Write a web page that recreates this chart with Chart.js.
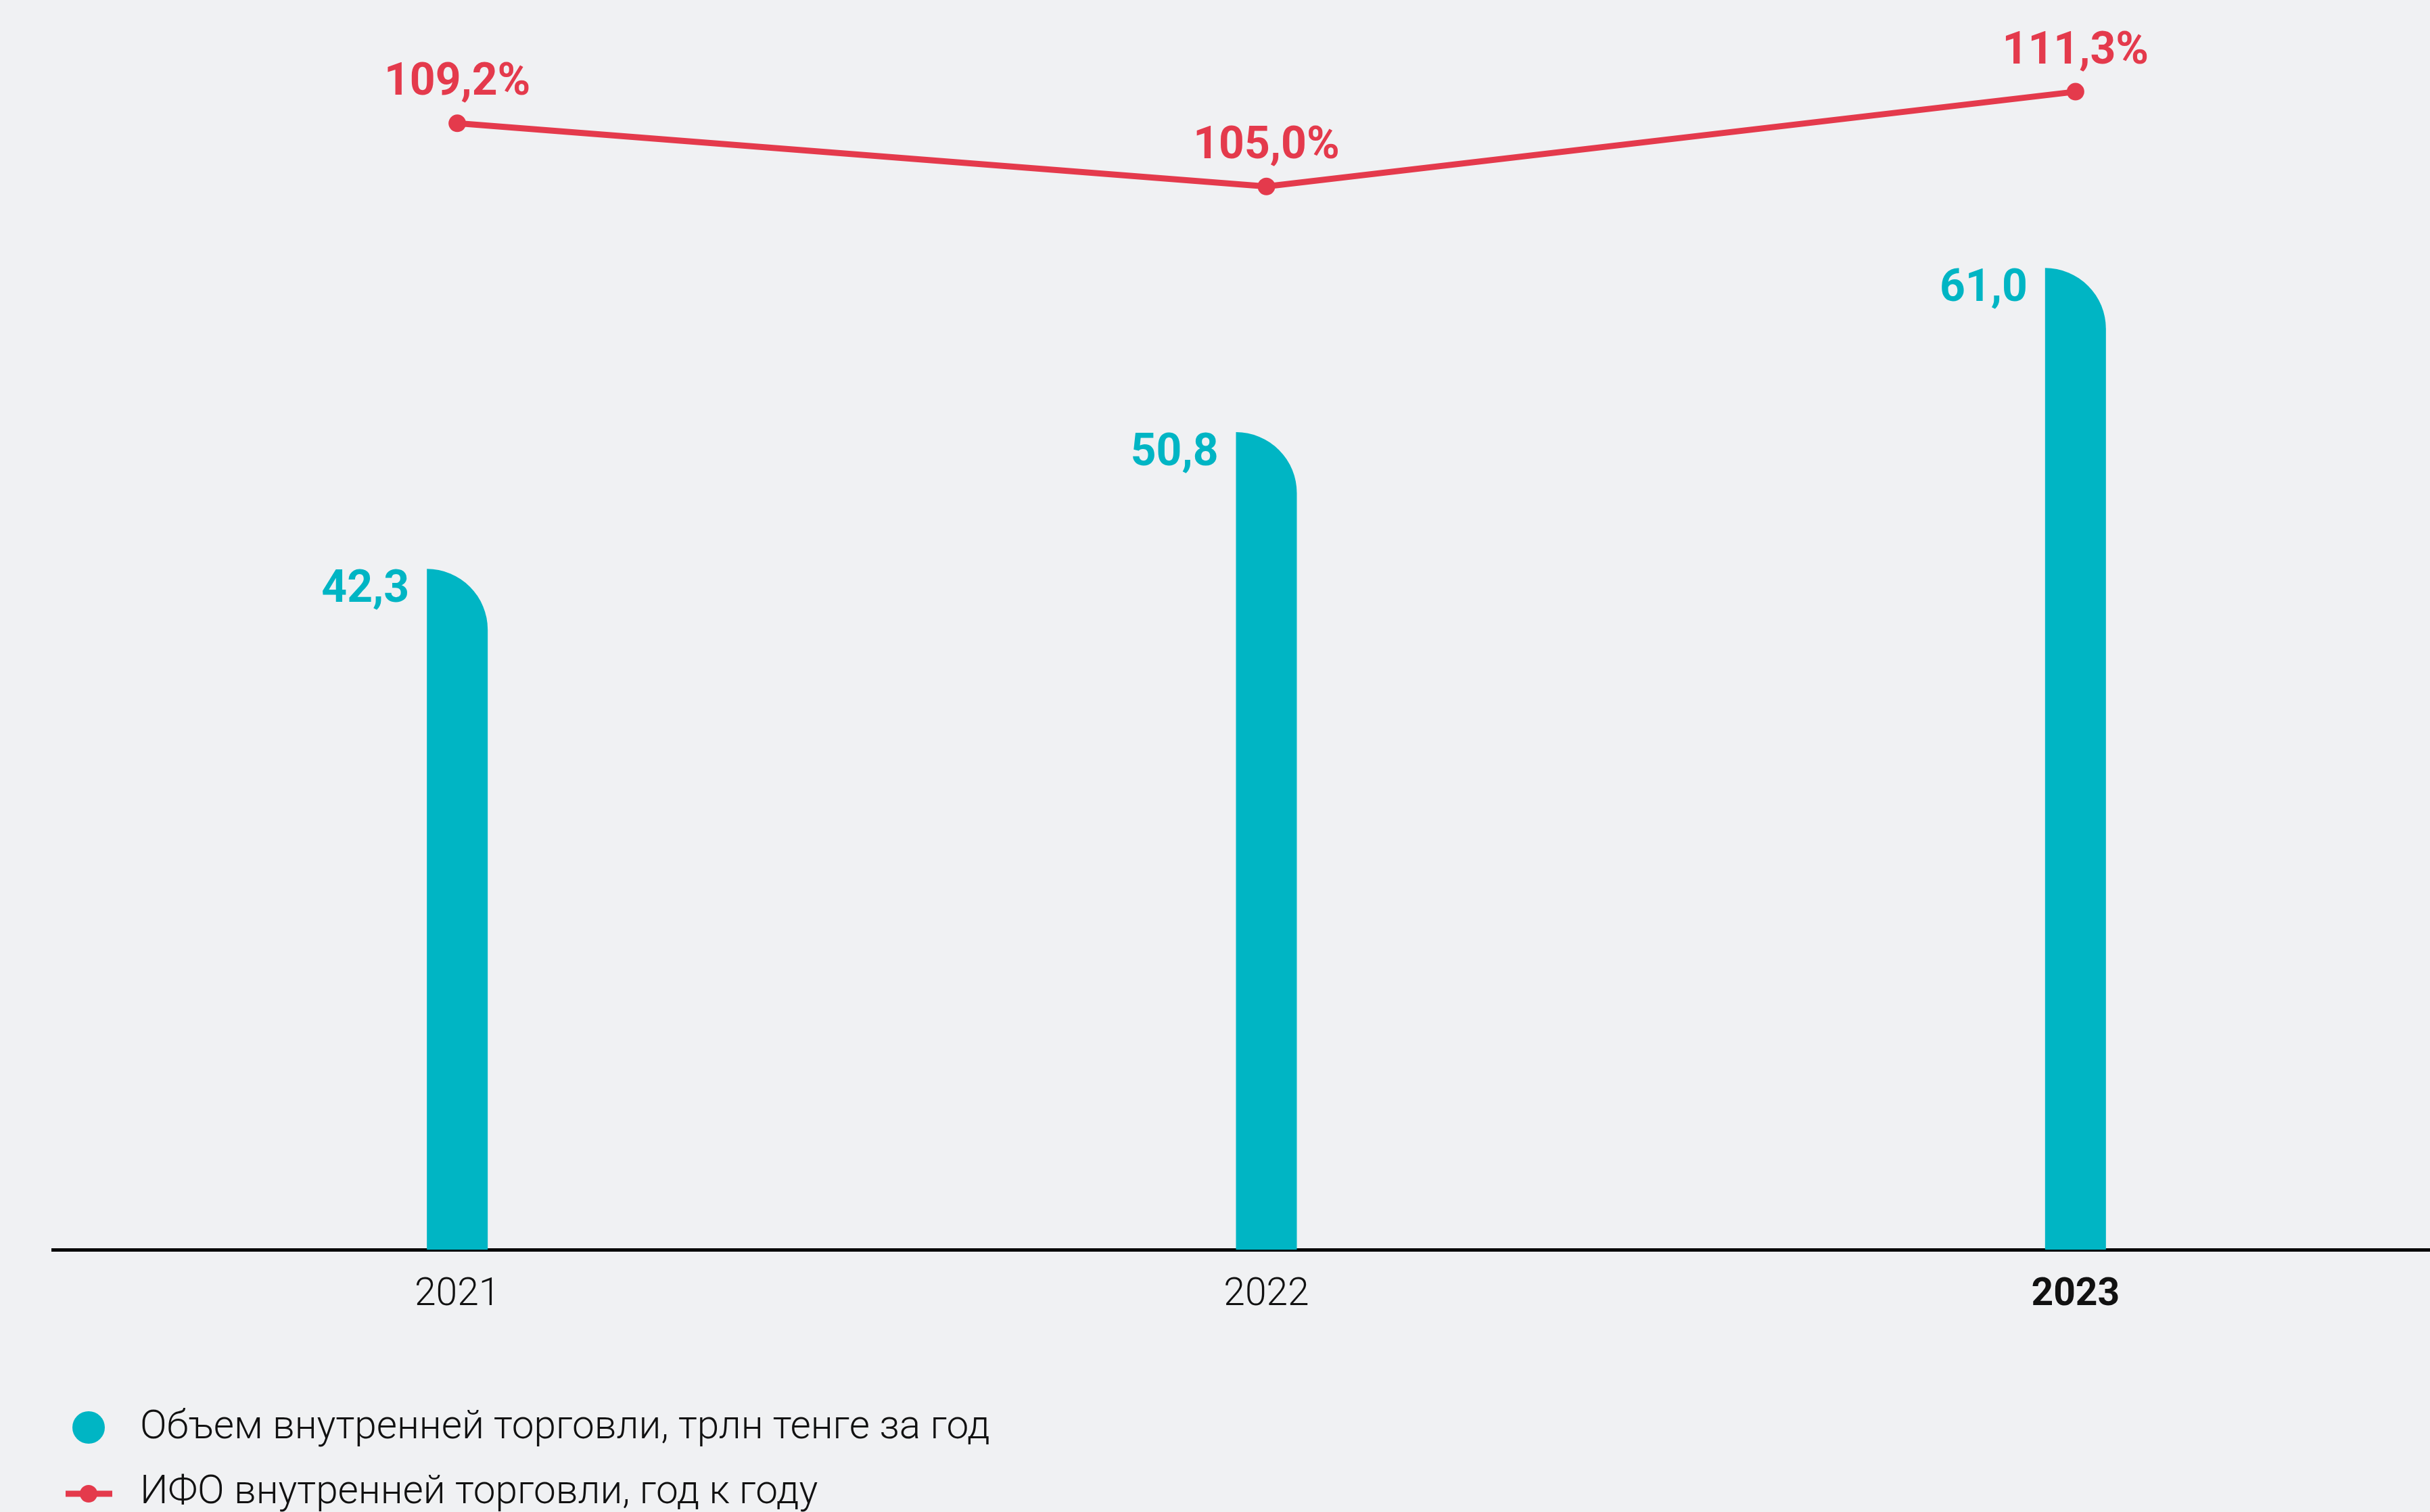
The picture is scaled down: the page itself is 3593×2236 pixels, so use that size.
<!DOCTYPE html>
<html lang="ru">
<head>
<meta charset="UTF-8">
<title>Внутренняя торговля</title>
<script src="https://cdn.jsdelivr.net/npm/chart.js"></script>
<style>
    html, body {
        margin: 0;
        padding: 0;
        overflow: hidden;
        background: #F0F1F3;
    }
    .chart-box {
        position: absolute;
        left: 0;
        top: 0;
        width: 3680px;
        height: 2236px;
    }
</style>
</head>
<body>
<div class="chart-box">
    <canvas id="tradeChart"></canvas>
</div>

<script>
    const years = ['2021', '2022', '2023'];
    const tradeVolume = [42.3, 50.8, 61.0];     // трлн тенге
    const tradeIndex = [109.2, 105.0, 111.3];   // %, год к году

    const TEAL = '#00B5C4';
    const RED = '#E43A4C';
    const FONT = 'Roboto';

    const fmt = v => v.toFixed(1).replace('.', ',');

    // bars with a single rounded (quarter circle) top-right corner
    const roundedBars = {
        id: 'roundedBars',
        beforeDatasetDraw(chart, args) {
            if (args.meta.type !== 'bar') return;
            const ctx = chart.ctx;
            ctx.save();
            ctx.fillStyle = chart.data.datasets[args.index].backgroundColor;
            args.meta.data.forEach(bar => {
                const { x, y, base, width } = bar.getProps(['x', 'y', 'base', 'width']);
                const left = x - width / 2;
                const r = Math.min(width, base - y);
                ctx.beginPath();
                ctx.moveTo(left, base);
                ctx.lineTo(left, y);
                ctx.arc(left, y + r, r, -Math.PI / 2, 0);
                ctx.lineTo(left + width, base);
                ctx.closePath();
                ctx.fill();
            });
            ctx.restore();
            return false;
        }
    };

    // value labels: left of the bars, above the line points
    const valueLabels = {
        id: 'valueLabels',
        afterDatasetsDraw(chart) {
            const ctx = chart.ctx;
            ctx.save();
            ctx.font = `bold 66px ${FONT}`;
            ctx.textBaseline = 'alphabetic';
            chart.data.datasets.forEach((ds, i) => {
                const meta = chart.getDatasetMeta(i);
                meta.data.forEach((el, j) => {
                    if (meta.type === 'bar') {
                        ctx.fillStyle = TEAL;
                        ctx.textAlign = 'right';
                        ctx.fillText(fmt(ds.data[j]), el.x - el.width / 2 - 26, el.y + 49);
                    } else {
                        ctx.fillStyle = RED;
                        ctx.textAlign = 'center';
                        ctx.fillText(fmt(ds.data[j]) + '%', el.x, el.y - 42);
                    }
                });
            });
            ctx.restore();
        }
    };

    // two-row legend under the axis: bar series first, then the line
    const bottomLegend = {
        id: 'bottomLegend',
        afterDraw(chart) {
            const ctx = chart.ctx;
            const sets = chart.data.datasets;
            const barSet = sets.find(d => d.type === 'bar');
            const lineSet = sets.find(d => d.type === 'line');
            ctx.save();
            ctx.font = `300 58.5px ${FONT}`;
            ctx.textAlign = 'left';
            ctx.textBaseline = 'middle';

            ctx.fillStyle = TEAL;
            ctx.beginPath();
            ctx.arc(131, 2111, 24, 0, Math.PI * 2);
            ctx.fill();
            ctx.fillStyle = '#111';
            ctx.fillText(barSet.label, 207, 2112);

            ctx.strokeStyle = RED;
            ctx.lineWidth = 9;
            ctx.beginPath();
            ctx.moveTo(97, 2209);
            ctx.lineTo(166, 2209);
            ctx.stroke();
            ctx.fillStyle = RED;
            ctx.beginPath();
            ctx.arc(131, 2209, 13, 0, Math.PI * 2);
            ctx.fill();
            ctx.fillStyle = '#111';
            ctx.fillText(lineSet.label, 207, 2208);
            ctx.restore();
        }
    };

    new Chart(document.getElementById('tradeChart'), {
        data: {
            labels: years,
            datasets: [
                {
                    type: 'line',
                    label: 'ИФО внутренней торговли, год к году',
                    data: tradeIndex,
                    yAxisID: 'y1',
                    borderColor: RED,
                    borderWidth: 9,
                    pointRadius: 13,
                    pointBackgroundColor: RED,
                    pointBorderWidth: 0,
                    tension: 0,
                    order: 0
                },
                {
                    type: 'bar',
                    label: 'Объем внутренней торговли, трлн тенге за год',
                    data: tradeVolume,
                    yAxisID: 'y',
                    backgroundColor: TEAL,
                    barThickness: 90,
                    order: 1
                }
            ]
        },
        options: {
            responsive: true,
            maintainAspectRatio: false,
            animation: false,
            layout: {
                padding: { left: 78, right: 0, top: 100, bottom: 218 }
            },
            plugins: {
                legend: { display: false },
                tooltip: { enabled: false }
            },
            scales: {
                x: {
                    type: 'category',
                    offset: true,
                    z: 1,
                    grid: { display: false, drawTicks: false },
                    border: { display: true, color: '#000', width: 5 },
                    ticks: {
                        color: '#111',
                        padding: 34,
                        font: ctx => ({
                            family: FONT,
                            size: 57,
                            weight: ctx.index === 2 ? 'bold' : 300
                        })
                    },
                    afterFit(scale) { scale.height = 170; }
                },
                y: {
                    display: false,
                    min: 0,
                    max: 73.45
                },
                y1: {
                    display: false,
                    min: 34.34,
                    max: 112.9
                }
            }
        },
        plugins: [roundedBars, valueLabels, bottomLegend]
    });
</script>
</body>
</html>
